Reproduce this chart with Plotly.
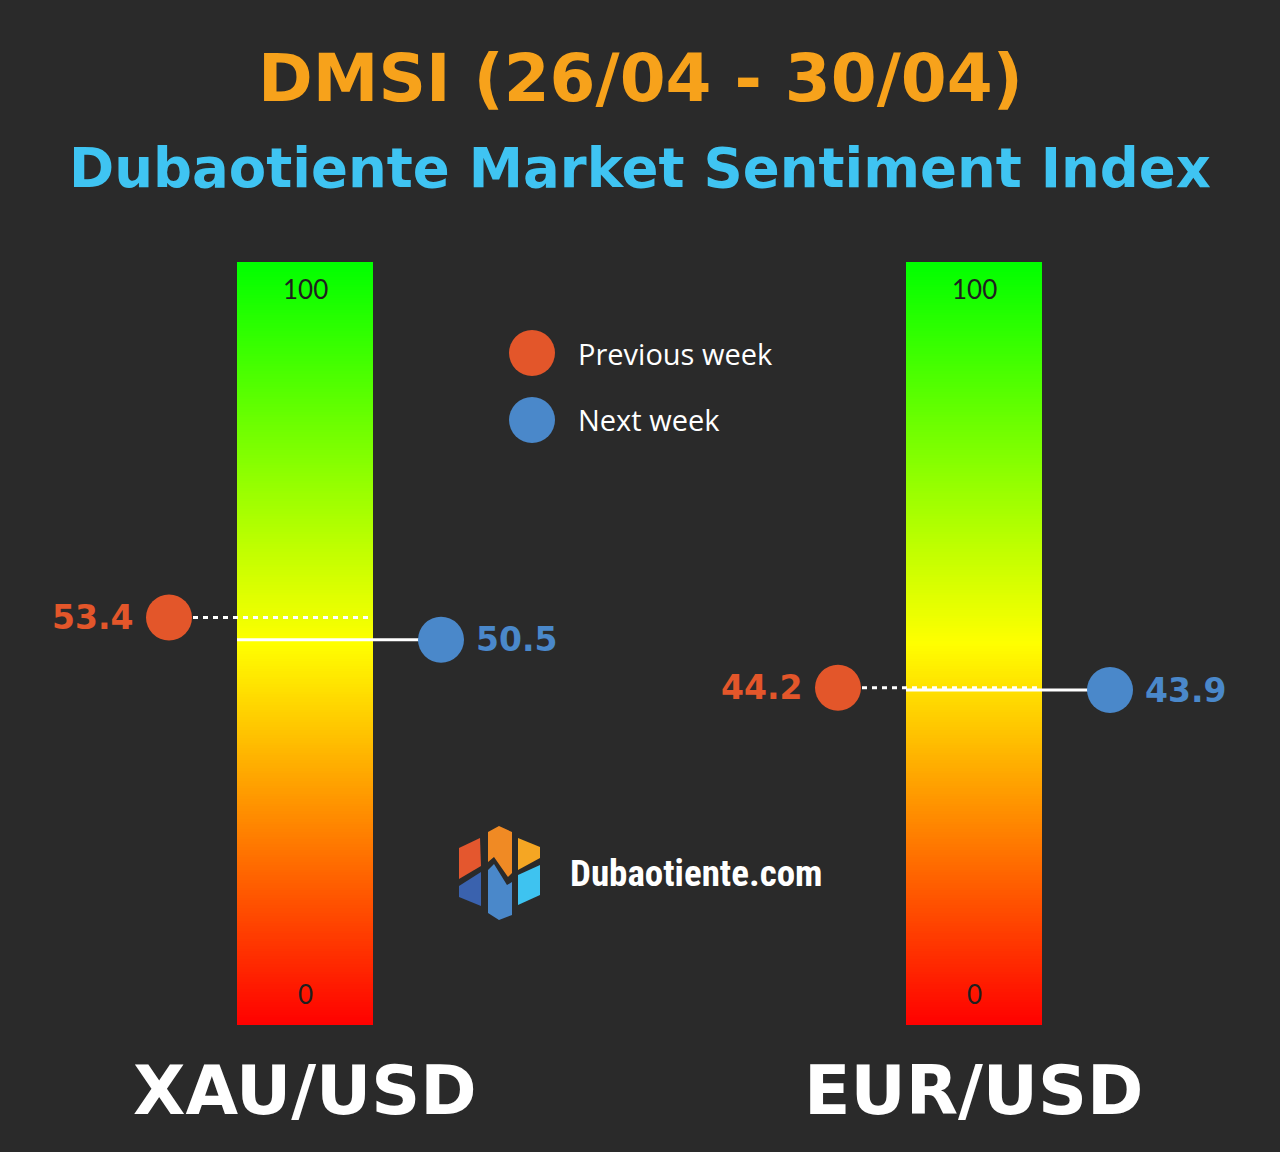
import numpy as np
import plotly.graph_objects as go

# ---------------- data ----------------
pairs = ["XAU/USD", "EUR/USD"]
previous_week = [53.4, 44.2]
next_week = [50.5, 43.9]
scale_ticks = [0, 100]
title_text = "DMSI (26/04 - 30/04)"
subtitle_text = "Dubaotiente Market Sentiment Index"
legend_labels = ["Previous week", "Next week"]

# ---------------- layout constants ----------------
W, H = 1280, 1152
BG = "#2a2a2a"
ORANGE = "#E3562A"
BLUE = "#4A88CA"
WIDE = "DejaVu Sans"
bar_centers = [305, 974]
bar_half = 68
dot_offset = 136
Y0PIX, Y100PIX = 1025, 262
ppu = (Y0PIX - Y100PIX) / 100.0
y_lo = -(H - Y0PIX) / ppu
y_hi = Y0PIX / ppu


def py(p):
    return 1 - p / H


fig = go.Figure()

# gradient bars
n = 300
edges = np.linspace(scale_ticks[0], scale_ticks[1], n + 1)
mids = (edges[:-1] + edges[1:]) / 2
cscale = [[0.0, "#ff0000"], [0.5, "#ffff00"], [1.0, "#00ff00"]]
for cx in bar_centers:
    fig.add_trace(go.Heatmap(
        z=[[m] for m in mids], x=[cx - bar_half, cx + bar_half], y=edges,
        colorscale=cscale, zmin=0, zmax=100, showscale=False, hoverinfo="skip"))

# connecting lines and markers
for i, cx in enumerate(bar_centers):
    pv, nv = previous_week[i], next_week[i]
    xo, xb = cx - dot_offset, cx + dot_offset
    fig.add_trace(go.Scatter(x=[xo + 24, cx + bar_half], y=[pv, pv], mode="lines",
                             line=dict(color="white", width=3, dash="5px,5px"),
                             hoverinfo="skip", showlegend=False))
    fig.add_trace(go.Scatter(x=[cx - bar_half, xb], y=[nv, nv], mode="lines",
                             line=dict(color="white", width=3),
                             hoverinfo="skip", showlegend=False))
    fig.add_trace(go.Scatter(x=[xo], y=[pv], mode="markers",
                             marker=dict(color=ORANGE, size=46, line=dict(width=0)),
                             hoverinfo="skip", showlegend=False))
    fig.add_trace(go.Scatter(x=[xb], y=[nv], mode="markers",
                             marker=dict(color=BLUE, size=46, line=dict(width=0)),
                             hoverinfo="skip", showlegend=False))
    fig.add_annotation(x=xo - 34, y=pv, text=f"<b>{pv:.1f}</b>", showarrow=False,
                       xanchor="right", yanchor="middle",
                       font=dict(family=WIDE, size=33, color=ORANGE))
    fig.add_annotation(x=xb + 33, y=nv, text=f"<b>{nv:.1f}</b>", showarrow=False,
                       xanchor="left", yanchor="middle",
                       font=dict(family=WIDE, size=33, color=BLUE))
    # scale labels
    fig.add_annotation(x=cx, y=py(289), yref="paper", text=str(scale_ticks[1]), showarrow=False,
                       xanchor="center", yanchor="middle",
                       font=dict(family="Lato", size=26, color="#1f1f1f"))
    fig.add_annotation(x=cx, y=py(994), yref="paper", text=str(scale_ticks[0]), showarrow=False,
                       xanchor="center", yanchor="middle",
                       font=dict(family="Lato", size=26, color="#1f1f1f"))
    # pair labels
    fig.add_annotation(x=cx, y=py(1090), yref="paper", text=f"<b>{pairs[i]}</b>", showarrow=False,
                       xanchor="center", yanchor="middle",
                       font=dict(family=WIDE, size=68, color="white"))

# legend
leg_y = [353, 420]
leg_colors = [ORANGE, BLUE]
for lbl, ly, col in zip(legend_labels, leg_y, leg_colors):
    fig.add_trace(go.Scatter(x=[532], y=[(Y0PIX - ly) / ppu], mode="markers",
                             marker=dict(color=col, size=46, line=dict(width=0)),
                             hoverinfo="skip", showlegend=False))
    fig.add_annotation(x=576, y=py(ly), yref="paper", text=lbl, showarrow=False,
                       xanchor="left", yanchor="middle",
                       font=dict(family="Open Sans", size=29, color="white"))

# titles
fig.add_annotation(x=640, y=py(78), yref="paper", text=f"<b>{title_text}</b>", showarrow=False,
                   xanchor="center", yanchor="middle",
                   font=dict(family=WIDE, size=66, color="#F7A21B"))
fig.add_annotation(x=640, y=py(168), yref="paper", text=f"<b>{subtitle_text}</b>", showarrow=False,
                   xanchor="center", yanchor="middle",
                   font=dict(family=WIDE, size=54.5, color="#3FC4F2"))

# logo
logo_parts = [
    ("#E4572E", [(459, 848), (480, 838), (481, 866), (459, 879)]),
    ("#3A62AE", [(459, 886), (481, 872), (481, 906), (459, 897)]),
    ("#F08A24", [(488, 832), (499, 826), (512, 832), (512, 873), (508, 877), (494, 857), (488, 862)]),
    ("#4A88CA", [(488, 870), (494, 864), (507, 885), (512, 882), (512, 915), (499, 920), (488, 913)]),
    ("#F5A623", [(518, 838), (540, 847), (540, 858), (518, 870)]),
    ("#3EC3F0", [(518, 875), (540, 865), (540, 895), (518, 905)]),
]
for col, pts in logo_parts:
    path = "M " + " L ".join(f"{x/W:.5f},{py(y):.5f}" for x, y in pts) + " Z"
    fig.add_shape(type="path", path=path, xref="paper", yref="paper",
                  fillcolor=col, line=dict(width=0))
fig.add_annotation(x=568, y=py(873), yref="paper", text="<b>Dubaotiente.com</b>", showarrow=False,
                   xanchor="left", yanchor="middle",
                   font=dict(family="Liberation Sans Narrow, Roboto Condensed, Roboto", size=37, color="white"))

fig.update_layout(
    width=W, height=H, margin=dict(l=0, r=0, t=0, b=0),
    paper_bgcolor=BG, plot_bgcolor=BG, showlegend=False,
    xaxis=dict(range=[0, W], visible=False, fixedrange=True),
    yaxis=dict(range=[y_lo, y_hi], visible=False, fixedrange=True),
)
fig.write_html("out.html", config={"displayModeBar": False},
               post_script="document.body.style.margin='0';document.body.style.background='%s';" % BG)
